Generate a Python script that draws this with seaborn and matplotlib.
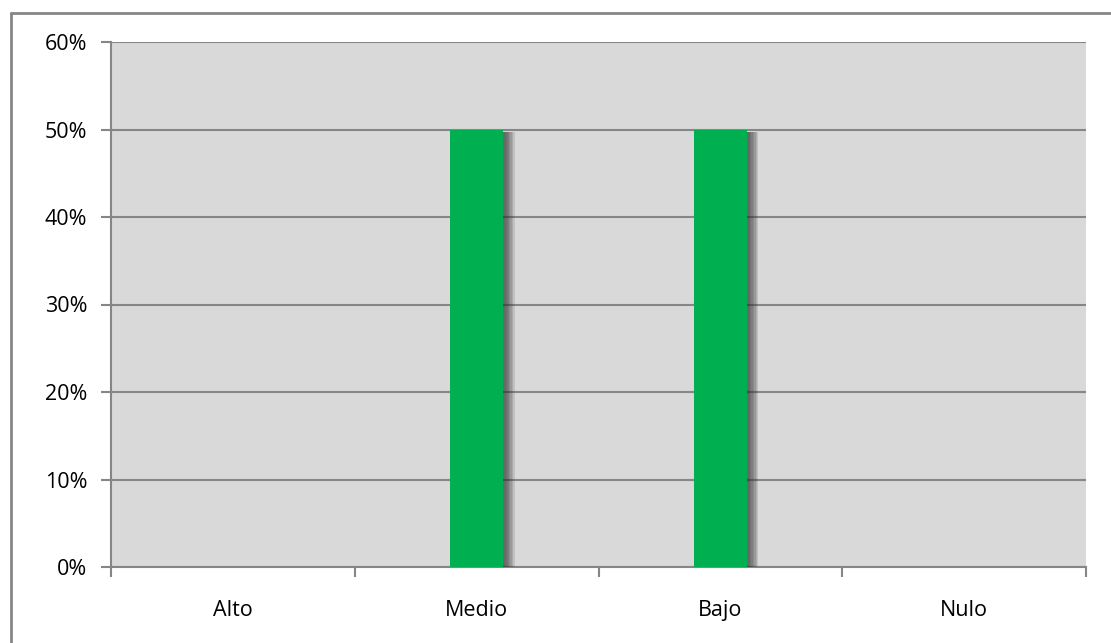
import matplotlib
matplotlib.use("Agg")
import matplotlib.pyplot as plt
import matplotlib.patheffects as pe
from matplotlib.lines import Line2D
from matplotlib.ticker import FixedLocator, PercentFormatter
import pandas as pd
import seaborn as sns

# Data
categories = ["Alto", "Medio", "Bajo", "Nulo"]
values = [0, 50, 50, 0]

df = pd.DataFrame({"nivel": categories, "pct": values})

sns.set_theme(style="white")
plt.rcParams["font.family"] = ["Open Sans", "DejaVu Sans"]

W, H = 1111, 643
fig = plt.figure(figsize=(W / 100, H / 100), dpi=100)
ax = fig.add_axes([111 / W, 1 - 567 / H, (1086 - 111) / W, (567 - 42) / H])

grid_col = "#868686"
ax.set_facecolor("#d9d9d9")

sns.barplot(data=df, x="nivel", y="pct", color="#00b050", width=0.22,
            saturation=1, ax=ax, zorder=3)
# soft shadow to the right of each bar
shadow = [pe.SimplePatchShadow(offset=(k, -2), shadow_rgbFace="#303030", alpha=0.14)
          for k in (8, 7, 6, 5, 4, 3, 2)]
for bar in ax.patches:
    bar.set_edgecolor("none")
    bar.set_path_effects(shadow + [pe.Normal()])

ax.set_xlim(-0.5, 3.5)
ax.set_ylim(0, 60)
ax.set_yticks(range(0, 61, 10))
ax.yaxis.set_major_formatter(PercentFormatter(decimals=0))
ax.grid(axis="y", color=grid_col, linewidth=1.5, zorder=1)
ax.set_axisbelow(True)

# x: tick marks at category boundaries, labels at centers
ax.xaxis.set_major_locator(FixedLocator([-0.5, 0.5, 1.5, 2.5, 3.5]))
ax.xaxis.set_minor_locator(FixedLocator(range(len(categories))))
ax.set_xticklabels([""] * 5)
ax.set_xticklabels(categories, minor=True)
ax.tick_params(axis="x", which="major", direction="out", length=7, width=1.5, color=grid_col, bottom=True)
ax.tick_params(axis="x", which="minor", length=0, pad=24, labelsize=15.5)
ax.tick_params(axis="y", direction="out", length=7, width=1.5, color=grid_col, left=True, pad=10, labelsize=15.5)
for lbl in ax.get_yticklabels() + ax.get_xticklabels(minor=True):
    lbl.set_color("black")

ax.set_xlabel("")
ax.set_ylabel("")
for side in ["top", "right"]:
    ax.spines[side].set_visible(False)
for side in ["left", "bottom"]:
    ax.spines[side].set_color(grid_col)
    ax.spines[side].set_linewidth(1.5)

# outer chart border: only left and top edges are visible in the crop
x0, y0 = 10.5 / W, 1 - 12.5 / H
fig.add_artist(Line2D([x0, x0], [0, y0], transform=fig.transFigure, color=grid_col, linewidth=2))
fig.add_artist(Line2D([x0, 1], [y0, y0], transform=fig.transFigure, color=grid_col, linewidth=2))

fig.savefig("out.png", dpi=100)
